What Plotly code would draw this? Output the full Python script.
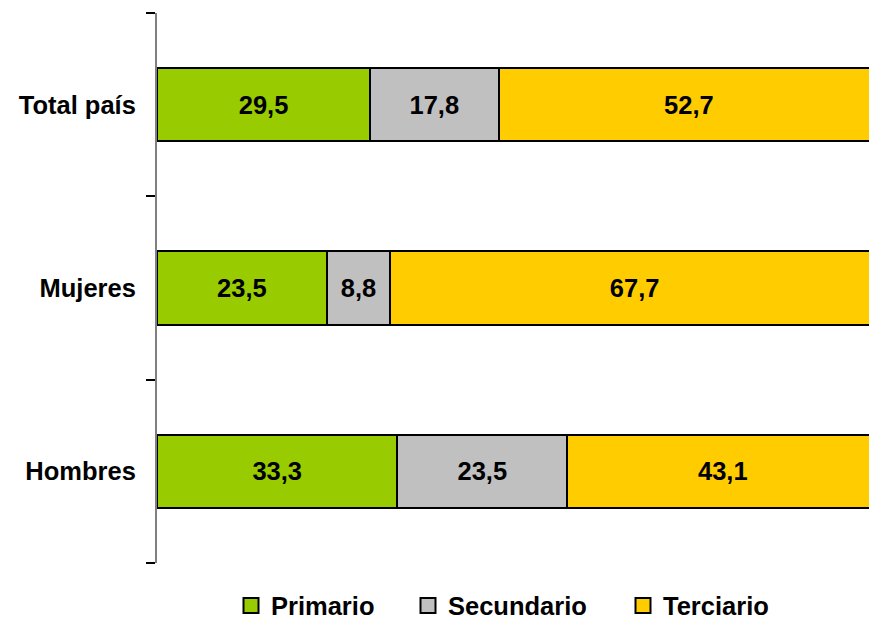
import plotly.graph_objects as go

categories = ["Total país", "Mujeres", "Hombres"]
primario = [29.5, 23.5, 33.3]
secundario = [17.8, 8.8, 23.5]
terciario = [52.7, 67.7, 43.1]
series_names = ["Primario", "Secundario", "Terciario"]
colors = ["#99CC00", "#C0C0C0", "#FFCC00"]

def fmt(v):
    return f"{v:.1f}".replace(".", ",")

FONT = "Liberation Sans, Arial, sans-serif"
PLOT_L, PLOT_W = 157, 712
legend_px = [231, 408, 623]
legend_ids = ["legend", "legend2", "legend3"]

fig = go.Figure()
for name, vals, col in zip(series_names, [primario, secundario, terciario], colors):
    fig.add_trace(go.Bar(
        y=categories, x=vals, name=name, orientation="h", showlegend=False,
        marker=dict(color=col, line=dict(color="black", width=2)),
        text=[fmt(v) for v in vals], textposition="inside",
        insidetextanchor="middle", textangle=0,
        textfont=dict(family=FONT, size=25.5, color="black", weight="bold"),
    ))
for name, col, lid in zip(series_names, colors, legend_ids):
    fig.add_trace(go.Scatter(
        x=[None], y=[None], mode="markers", name=name, legend=lid, showlegend=True,
        marker=dict(symbol="square", size=15, color=col, line=dict(color="black", width=2)),
    ))

legend_common = dict(orientation="h", xanchor="left", y=-0.078, yanchor="middle",
                     font=dict(family=FONT, size=25.5, weight="bold", color="black"),
                     bgcolor="rgba(0,0,0,0)")
fig.update_layout(
    barmode="stack",
    width=869, height=620,
    margin=dict(l=157, r=0, t=13, b=57, autoexpand=False),
    paper_bgcolor="white", plot_bgcolor="white",
    bargap=0.6,
    font=dict(family=FONT, size=25.5, color="black", weight="bold"),
    showlegend=True,
    legend=dict(x=(legend_px[0] - PLOT_L) / PLOT_W, **legend_common),
    legend2=dict(x=(legend_px[1] - PLOT_L) / PLOT_W, **legend_common),
    legend3=dict(x=(legend_px[2] - PLOT_L) / PLOT_W, **legend_common),
    uniformtext=dict(mode="show", minsize=10),
)
fig.update_xaxes(range=[0, 98.6], showticklabels=False, showgrid=False, zeroline=False,
                 showline=False, ticks="")
fig.update_yaxes(categoryorder="array", categoryarray=categories[::-1],
                 showline=True, linecolor="#808080", linewidth=2,
                 ticks="outside", tickson="boundaries", ticklen=9, tickcolor="black", tickwidth=1.5,
                 showgrid=False, ticklabelstandoff=14,
                 tickfont=dict(family=FONT, size=25.5, weight="bold"))

fig.write_html("out.html", config={"displayModeBar": False},
               post_script="document.body.style.margin='0px';document.body.style.overflow='hidden';")
